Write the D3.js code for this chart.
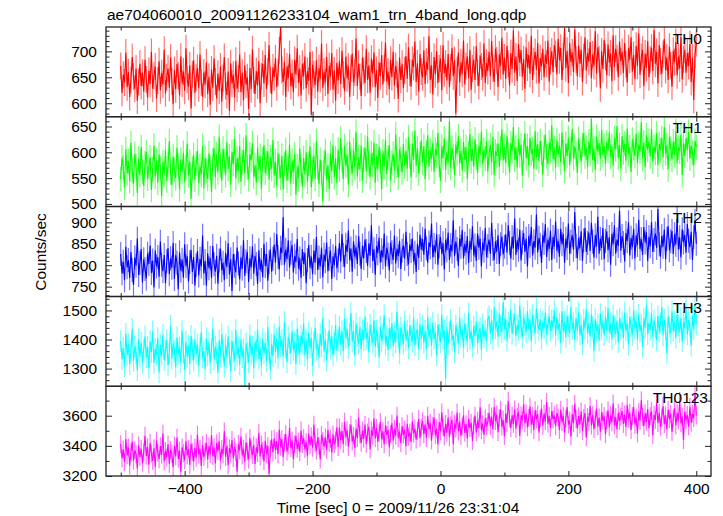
<!DOCTYPE html>
<html>
<head>
<meta charset="utf-8">
<script src="https://cdn.jsdelivr.net/npm/d3@7"></script>
<style>
  html, body { margin: 0; padding: 0; background: #fff; }
  svg { display: block; font-family: "Liberation Sans", Arial, Helvetica, sans-serif; }
</style>
</head>
<body>
<svg id="chart" width="723" height="516"></svg>
<script>
// ---------------- DATA ----------------
const titleText = "ae704060010_20091126233104_wam1_trn_4band_long.qdp";
const xLabelText = "Time [sec] 0 = 2009/11/26 23:31:04";
const yLabelText = "Counts/sec";
const seriesNames = ["TH0", "TH1", "TH2", "TH3", "TH0123"];
const timeStart = -500, timeEnd = 400;   // seconds, first/last bin
const seriesErrors = [26, 24, 28, 37, 59]; // typical 1-sigma error bar (counts/sec)

const th0 = [
672,620,655,640,698,631,660,612,645,689,651,628,667,605,641,676,633,659,622,684,
646,611,662,637,699,628,653,671,609,644,681,625,658,636,703,619,650,667,630,688,
642,598,664,627,676,653,615,690,638,661,624,706,645,632,673,590,656,683,620,649,
668,629,694,640,612,659,636,679,
618,651,597,665,630,686,642,609,657,624,671,603,648,689,633,616,661,585,677,638,
655,611,682,628,647,694,621,659,606,673,636,650,589,668,627,704,645,618,662,634,681,600,652,
676,638,693,627,661,712,645,618,669,650,687,631,659,702,748,664,641,680,612,671,
648,695,633,658,621,684,655,706,639,667,615,676,652,690,629,662,643,699,578,674,
656,635,683,622,668,647,715,630,661,640,689,618,672,651,697,626,663,605,678,644,
682,637,701,655,623,690,648,671,612,667,696,640,659,725,633,676,651,614,688,662,
639,705,645,673,620,686,657,698,631,664,610,679,652,693,636,668,717,642,661,627,
684,650,699,634,672,656,608,688,645,676,629,663,
691,647,708,659,632,684,670,719,641,677,622,695,661,650,702,637,680,664,729,645,
673,617,689,656,700,639,667,686,625,712,658,676,644,695,631,669,707,652,683,580,
664,698,640,679,657,721,636,672,690,648,703,626,667,684,645,710,659,633,692,671,650,715,639,678,662,
699,652,720,668,641,705,683,631,694,672,726,655,688,647,711,676,634,697,666,740,
659,690,643,714,678,702,651,685,628,708,669,693,657,730,645,681,699,664,716,638,
687,671,705,650,694,676,721,642,682,700,660,712,
695,656,724,683,707,645,690,745,668,701,639,716,679,698,660,742,684,652,711,676,
703,641,689,727,663,697,680,718,648,694,672,739,657,708,685,629,700,666,722,689,
654,713,678,696,643,731,670,705,687,650,719,681,
699,658,716,675,640,706,684,727,661,693,647,711,672,735,655,689,703,633,696,668,
720,650,684,707,662,741,676,699,638,712,681,657,695,724,664,688,645,709,673,632,
701,679,718,654,690,667,728,646,685,703,659,697,672,714,641,688,606,694,716
];

const th1 = [
548,590,571,532,606,559,583,544,618,565,539,597,574,521,588,556,610,563,535,579,
601,549,572,590,527,567,613,553,584,541,596,569,515,581,558,604,545,576,622,561,
537,592,566,550,609,574,528,586,562,599,543,571,617,555,582,510,568,595,547,578,
603,540,573,557,612,531,589,564,548,598,570,523,585,608,552,
596,561,630,574,545,607,583,556,619,568,592,537,601,577,626,550,589,564,612,543,
580,605,559,633,571,548,596,585,618,553,575,541,609,566,593,529,587,614,560,579,
602,547,590,568,624,555,583,536,598,573,
551,593,528,577,604,545,569,615,539,584,562,596,518,573,550,608,565,534,589,557,
600,543,578,611,532,567,594,549,622,571,538,586,560,505,581,603,546,575,529,597,563,614,552,588,541,
605,566,627,584,548,612,574,595,537,620,581,559,604,571,640,553,590,567,613,545,
586,609,563,631,578,552,598,575,619,541,593,567,611,583,529,602,572,624,558,589,
614,546,580,597,565,635,576,551,606,587,561,616,573,
603,568,629,592,551,617,585,642,574,608,559,596,623,580,612,548,599,633,571,604,
587,619,562,606,594,638,576,545,611,589,627,566,600,581,660,570,609,592,556,615,
597,631,578,603,565,620,586,610,549,598,636,583,607,572,625,591,560,613,595,640,
577,605,588,621,563,599,614,580,630,556,602,593,617,572,608,644,584,
611,579,632,596,561,618,603,649,586,609,571,625,594,614,555,601,637,589,612,575,
628,597,606,568,641,590,616,583,622,599,557,610,634,592,578,619,602,652,587,608,
570,624,596,613,581,639,600,564,617,593,628,575,606,645,589,611,598,560,626,604,
583,615,637,592,609,572,621,597,665,585,607,566,630,601,618,588,643,595,612,577,
620,603,639,591,612,574,627,606,651,589,614,568,631,600,617,584,646,597,610,562,
625,608,593,636,579,615,601,658,588,619,571,633,605,622,592,645,582,611,599,637,
576,616,604,628,590,649,598,613,567,630,607,586,621,595,641,579,609,602,634,556,
617,593,627,605,640,588,613,599,575,622,610
];

const th2 = [
826,781,808,765,843,795,812,770,831,789,754,818,799,862,777,805,838,760,814,791,
769,827,803,846,782,811,748,834,797,819,773,855,801,786,824,758,809,840,779,816,
794,852,768,823,806,744,830,787,813,771,849,798,821,762,807,836,784,819,753,800,
833,776,815,797,869,781,810,752,828,793,817,770,845,802,785,822,757,811,839,788,
806,765,829,796,851,778,814,740,826,799,783,841,804,767,818,792,858,775,809,831,
761,816,795,844,780,822,803,756,835,789,812,772,850,798,826,764,807,837,785,815,
848,806,873,819,790,841,828,912,801,836,814,858,795,829,847,
783,822,807,861,792,816,771,838,803,829,758,812,847,795,820,779,834,806,866,789,
818,797,841,772,825,809,853,786,815,834,768,821,800,845,793,811,
852,809,873,824,796,848,831,881,812,839,785,856,820,842,803,868,827,791,846,816,
860,833,799,851,822,893,810,837,778,845,828,864,806,835,818,874,797,841,825,788,
853,830,812,869,804,839,821,857,791,834,846,815,878,826,802,848,833,862,808,829,784,850,817,871,836,
861,824,885,839,806,853,842,897,818,847,830,872,801,844,866,827,851,790,859,835,
876,812,848,832,905,821,855,838,799,863,843,882,816,850,829,868,805,857,836,891,
823,846,810,874,841,862,797,853,834,887,819,845,860,826,899,838,812,856,831,870,803,849,867,825,843,
872,829,894,851,815,866,840,909,824,858,836,883,811,853,875,831,862,797,868,845,
889,823,856,841,918,830,864,848,805,871,852,896,819,860,838,881,812,866,843,902,
834,857,820,885,849,873,806,862,840,897,827,855,870,836,924,845,816,864,839,879,810,858,887,831,852,
876,833,899,855,818,870,844,913,827,862,840,887,814,857,879,835,866,801,873,849,
893,827,860,845,927,834,868,852,809,875,856,900,823,864,842,885,816,870,847,906,
838,861,824,889,853,877,810,866,844,901,831,859,874,840,931,849,820,868,843,883,
814,862,891,835,856,880,826,872,848,909,837,865,818,884,853,871,829,896,857,842,878,812,866,904,850
];

const th3 = [
1395,1332,1371,1308,1420,1347,1384,1315,1362,1437,1326,1378,1353,1294,1402,1341,1389,1320,1366,1411,
1338,1375,1302,1394,1356,1428,1319,1369,1347,1405,1287,1381,1344,1416,1329,1363,1398,1312,1352,1447,
1335,1386,1361,1305,1408,1349,1374,1322,1431,1357,1296,1392,1340,1379,1316,1413,1366,1328,1401,1350,
1383,1309,1372,1426,1337,1360,1298,1404,1345,1390,1318,1367,1439,1331,1376,1354,1286,1397,1342,1419,
1364,1307,1381,1336,1410,1351,1292,1395,1358,1327,1433,1346,1373,1313,1400,1339,1368,1241,1387,1355,
1321,1415,1348,1377,1301,1392,1362,1434,1333,1371,1310,1403,1352,1388,1325,1444,1359,1297,1382,1343,
1418,1357,1403,1336,1444,1375,1399,1341,1461,1370,1322,1409,1386,1353,1428,1364,1393,1315,1437,1379,
1350,1414,1388,1456,1345,1397,1331,1423,1372,1405,1310,1391,1440,1366,1384,1338,1419,1377,1474,1359,
1401,1327,1390,1432,1368,1413,1345,1386,1450,1362,1398,
1446,1381,1429,1360,1472,1405,1437,1372,1419,1491,1393,1428,1345,1455,1410,1386,1442,1367,1433,1398,
1478,1401,1424,1356,1451,1415,1389,1467,1375,1431,1408,1338,1445,1396,1420,1484,1383,1412,1363,1439,
1404,1457,1378,1426,1391,1496,1409,1352,1441,1418,1385,1463,1399,1430,1370,1448,1413,1392,1475,1380,1422,1435,1366,1453,1402,
1448,1389,1431,1367,1477,1410,1437,1379,1458,1402,1424,1346,1452,1416,1391,1485,1405,1431,1265,1444,
1384,1427,1469,1398,1414,1355,1449,1421,1387,1475,1409,1436,1372,1455,1418,1393,1490,1401,1428,1376,
1446,1411,1462,1388,1425,1439,1364,1453,1407,1432,1396,1470,
1481,1419,1466,1402,1510,1438,1463,1410,1490,1447,1426,1529,1435,1472,1396,1459,1441,1503,1420,1455,
1488,1412,1450,1431,1517,1444,1407,1476,1452,1425,1498,1437,1468,1393,1484,1449,1421,1507,1456,1433,
1470,1403,1461,1439,1494,1417,1453,1480,1428,1466,1442,1501,
1413,1476,1434,1455,1388,1497,1429,1462,1407,1481,1445,1420,1512,1436,1458,1399,1474,1431,1493,1417,
1449,1384,1468,1438,1503,1422,1457,1410,1486,1443,1361,1470,1427,1452,1396,1489,1435,1461,1415,1478,
1432,1508,1424,1455,1401,1483,1446,1418,1465,1391,1472,1437,
1460,1405,1493,1431,1456,1382,1477,1444,1416,1501,1438,1463,1400,1486,1427,1451,1374,1472,1441,1518,
1419,1458,1433,1490,1409,1466,1442,1397,1481,1428,1455,1511,1414,1469,1436,1352,1478,1445,1421,1497,
1430,1463,1406,1487,1448,1425,1474,1394,1459,1439,1505,1418,1467,1443,1378,1482,1435,1520,1452
];

const th0123 = [
3412,3318,3376,3291,3445,3337,3389,3269,3360,3428,3302,3371,3344,3250,3403,3326,3381,3287,3357,3467,
3333,3392,3275,3419,3348,3300,3384,3262,3436,3355,3311,3398,3340,3481,3296,3366,3324,3410,3281,3373,
3345,3258,3401,3330,3455,3313,3368,3229,3390,3351,3304,3432,3337,3379,3273,3414,3359,3295,3387,3321,
3474,3342,3380,3266,3406,3327,3362,
3420,3310,3397,3345,3471,3332,3389,3284,3418,3365,3431,3301,3380,3343,3496,3326,3402,3271,3385,3350,
3440,3318,3393,3357,3228,3414,3369,3461,3337,3381,3293,3423,3362,3309,3451,3374,3339,3405,3280,3391,
3352,3486,3329,3410,3367,3297,3434,3346,3398,3213,3379,3443,3356,
3448,3371,3432,3344,3509,3393,3445,3326,3420,3478,3362,3401,3520,3385,3436,3311,3411,3466,3380,3427,
3359,3502,3412,3451,3378,3425,3331,3481,3404,3463,3387,3540,3416,3368,3457,3401,3309,3473,3433,3395,
3458,3373,3506,3420,3447,3355,3476,3409,3438,3523,3392,
3522,3437,3498,3411,3560,3459,3505,3392,3484,3541,3428,3468,3385,3516,3451,3587,3474,3420,3502,3446,
3541,3413,3490,3527,3376,3503,3466,3582,3449,3519,3428,3487,3558,3444,3497,3410,3536,3472,3506,3389,
3480,3549,3435,3512,3467,3601,3451,3494,3417,3530,3475,3508,3398,3547,3460,3489,3426,3563,3482,3515,3441,3499,3578,3453,3521,
3564,3478,3541,3452,3600,3509,3553,3434,3530,3587,3471,3515,3410,3558,3496,3622,3524,3463,3546,3488,
3587,3457,3536,3572,3411,3548,3512,3621,3495,3561,3466,3529,3603,3486,3544,3449,3579,3517,3553,3432,
3534,3601,3488,3567,3519,3656,3503,3548,3473,3583,3530,3559,
3619,3530,3595,3508,3657,3564,3608,3491,3586,3640,3527,3573,3464,3615,3551,3699,3582,3518,3602,3545,
3641,3513,3594,3627,3466,3603,3568,3678,3549,3616,3522,3586,3660,3541,3599,3505,3637,3575,3610,3489,
3580,3648,3533,3614,3564,3692,3547,3598,3519,3631,3576,3603,
3530,3618,3589,3504,3640,3557,3601,3487,3582,3655,3541,3569,3462,3612,3550,3679,3578,3516,3597,3543,
3629,3498,3583,3617,3456,3592,3559,3664,3535,3606,3511,3575,3648,3529,3588,3494,3623,3564,3599,3477,
3571,3636,3522,3603,3556,3681,3537,3590,3509,3620,3566,3594,
3631,3545,3608,3523,3672,3579,3621,3505,3598,3656,3540,3588,3481,3627,3566,3703,3593,3532,3615,3559,
3644,3517,3597,3630,3471,3606,3572,3685,3551,3619,3526,3589,3664,3544,3602,3508,3640,3578,3612,3493,
3583,3651,3536,3617,3567,3698,3549,3594,3438,3626,3570,3605,3529,3659,3553,3612,3584,3745,3601
];

// tick labels
const xTickLabels = [-400, -200, 0, 200, 400];
const xMinorTicks = [-500, -300, -100, 100, 300];
const yTickLabels = [
  [600, 650, 700],
  [500, 550, 600, 650],
  [750, 800, 850, 900],
  [1300, 1400, 1500],
  [3200, 3400, 3600]
];
const yMinorStep = [10, 10, 10, 20, 100];
const yRanges = [[574, 747], [495, 669], [727, 937], [1239, 1548], [3200, 3795]];

// ---------------- DRAW ----------------
const seriesValues = [th0, th1, th2, th3, th0123];
const colors = ["#ff0000", "#00ff00", "#0000ff", "#00ffff", "#ff00ff"];
const svg = d3.select("#chart");
const left = 106, right = 711;
const panelEdges = [27, 116.7, 206.5, 296.5, 386.3, 476];
const fontSize = "15.5px";
const frameColor = "#222";

const x = d3.scaleLinear().domain([-523, 423]).range([left, right]);

svg.append("text")
  .attr("x", 107).attr("y", 20)
  .attr("font-size", fontSize).attr("fill", "#000")
  .text(titleText);

const defs = svg.append("defs");

seriesValues.forEach((vals, k) => {
  const top = panelEdges[k], bottom = panelEdges[k + 1];
  const y = d3.scaleLinear().domain(yRanges[k]).range([bottom, top]);
  const n = vals.length;
  const tScale = d3.scaleLinear().domain([0, n - 1]).range([timeStart, timeEnd]);
  const pts = vals.map((v, i) => ({ t: tScale(i), v }));
  const err = seriesErrors[k];

  defs.append("clipPath").attr("id", "clip" + k)
    .append("rect").attr("x", left).attr("y", top)
    .attr("width", right - left).attr("height", bottom - top);

  const g = svg.append("g").attr("clip-path", `url(#clip${k})`);

  // error bars
  g.append("g").selectAll("line").data(pts).join("line")
    .attr("x1", d => x(d.t)).attr("x2", d => x(d.t))
    .attr("y1", d => y(d.v - err)).attr("y2", d => y(d.v + err))
    .attr("stroke", colors[k]).attr("stroke-opacity", 0.55).attr("stroke-width", 1.2);

  // data line
  g.append("path").datum(pts)
    .attr("fill", "none").attr("stroke", colors[k]).attr("stroke-width", 1.1)
    .attr("d", d3.line().x(d => x(d.t)).y(d => y(d.v)));

  // y axes
  const [y0, y1] = yRanges[k];
  const step = yMinorStep[k];
  const minor = d3.range(Math.ceil(y0 / step) * step, y1 + 0.001, step)
    .filter(v => !yTickLabels[k].includes(v));

  svg.append("g").attr("transform", `translate(${left},0)`)
    .call(d3.axisLeft(y).tickValues(yTickLabels[k]).tickSize(-6).tickPadding(9)
      .tickFormat(d3.format("d")));
  svg.append("g").attr("transform", `translate(${left},0)`)
    .call(d3.axisLeft(y).tickValues(minor).tickSize(-3.5).tickFormat(""));
  svg.append("g").attr("transform", `translate(${right},0)`)
    .call(d3.axisRight(y).tickValues(yTickLabels[k]).tickSize(-6).tickFormat(""));
  svg.append("g").attr("transform", `translate(${right},0)`)
    .call(d3.axisRight(y).tickValues(minor).tickSize(-3.5).tickFormat(""));

  // x ticks top and bottom (inward)
  svg.append("g").attr("transform", `translate(0,${top})`)
    .call(d3.axisTop(x).tickValues(xTickLabels).tickSize(-5).tickFormat(""));
  svg.append("g").attr("transform", `translate(0,${top})`)
    .call(d3.axisTop(x).tickValues(xMinorTicks).tickSize(-3.5).tickFormat(""));
  const isLast = k === seriesValues.length - 1;
  svg.append("g").attr("transform", `translate(0,${bottom})`)
    .call(d3.axisBottom(x).tickValues(xTickLabels).tickSize(-5).tickPadding(7)
      .tickFormat(isLast ? d3.format("d") : ""));
  svg.append("g").attr("transform", `translate(0,${bottom})`)
    .call(d3.axisBottom(x).tickValues(xMinorTicks).tickSize(-3.5).tickFormat(""));

  // frame
  svg.append("rect").attr("x", left).attr("y", top)
    .attr("width", right - left).attr("height", bottom - top)
    .attr("fill", "none").attr("stroke", frameColor).attr("stroke-width", 1.3);

  // series label
  svg.append("text")
    .attr("x", isLast ? 708 : 702).attr("y", top + 16.5)
    .attr("text-anchor", "end").attr("font-size", fontSize).attr("fill", "#000")
    .text(seriesNames[k]);
});

svg.selectAll(".domain").remove();
svg.selectAll(".tick line").attr("stroke", frameColor).attr("stroke-width", 1);
svg.selectAll(".tick text").attr("font-size", fontSize).attr("fill", "#000")
  .attr("font-family", '"Liberation Sans", Arial, Helvetica, sans-serif');

svg.append("text")
  .attr("x", 398).attr("y", 513)
  .attr("text-anchor", "middle").attr("font-size", fontSize).attr("fill", "#000")
  .text(xLabelText);

svg.append("text")
  .attr("transform", "translate(46,252) rotate(-90)")
  .attr("text-anchor", "middle").attr("font-size", fontSize).attr("fill", "#000")
  .text(yLabelText);
</script>
</body>
</html>
